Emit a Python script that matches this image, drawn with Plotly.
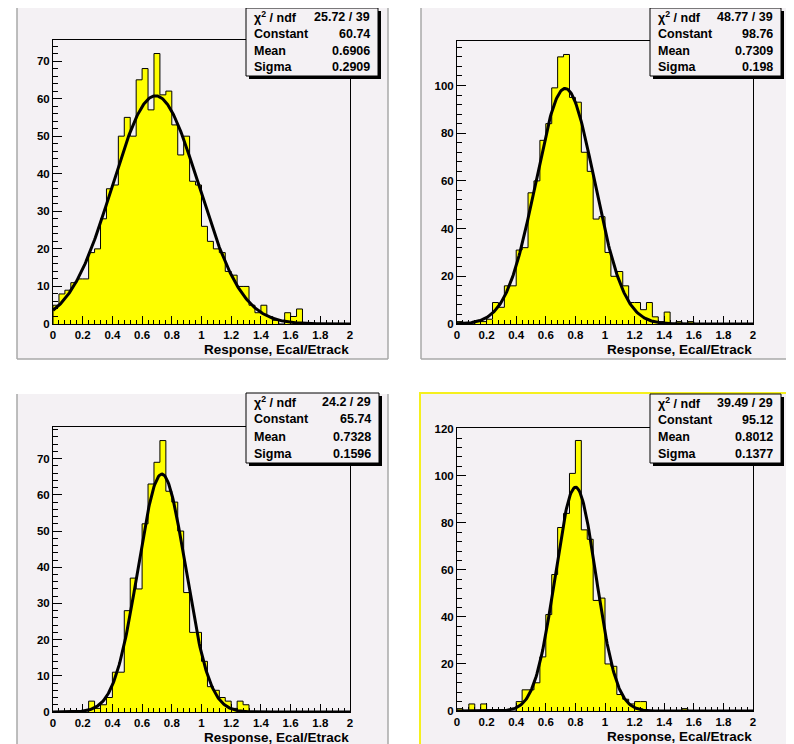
import numpy as np
import plotly.graph_objects as go

# page is 794x744; the HTML body adds an 8px margin, so the figure is drawn 8px smaller
OFF = 8
W, H = 794 - OFF, 744 - OFF

# ---------------- data ----------------
bin_edges = [round(0.04 * i, 2) for i in range(51)]

counts_1 = [5, 8, 9, 11, 12, 12, 19, 20, 28, 36, 37, 50, 55, 50, 65, 68, 57, 72, 61, 62,
            53, 45, 50, 38, 37, 26, 22, 20, 19, 14, 13, 10, 10, 5, 3, 5, 2, 1, 0, 3,
            2, 4, 0, 0, 0, 0, 0, 0, 0, 0]
counts_2 = [1, 0, 0, 1, 1, 2, 9, 7, 16, 16, 31, 32, 55, 60, 77, 84, 99, 112, 113, 95,
            93, 72, 64, 44, 45, 30, 20, 22, 16, 9, 9, 6, 9, 3, 1, 5, 0, 1, 0, 1,
            0, 0, 0, 0, 0, 0, 0, 0, 0, 0]
counts_3 = [0, 0, 0, 0, 0, 0, 3, 1, 2, 4, 11, 11, 28, 37, 34, 52, 63, 69, 75, 61,
            58, 50, 33, 22, 22, 14, 7, 6, 4, 3, 1, 3, 2, 0, 0, 0, 0, 0, 0, 0,
            0, 0, 0, 0, 0, 0, 0, 0, 0, 0]
counts_4 = [1, 0, 3, 0, 3, 0, 0, 0, 0, 0, 4, 9, 9, 12, 23, 41, 58, 78, 84, 101,
            115, 77, 73, 47, 48, 20, 19, 7, 5, 3, 4, 4, 0, 0, 0, 0, 0, 0, 1, 0,
            0, 0, 0, 0, 0, 0, 0, 0, 0, 0]
all_counts = [counts_1, counts_2, counts_3, counts_4]

chi2_ndf = ["25.72 / 39", "48.77 / 39", "24.2 / 29", "39.49 / 29"]
fit_constant = [60.74, 98.76, 65.74, 95.12]
fit_mean = [0.6906, 0.7309, 0.7328, 0.8012]
fit_sigma = [0.2909, 0.198, 0.1596, 0.1377]

y_top = [75.6, 118.65, 78.75, 120.3]
y_major = [10, 20, 10, 20]
y_minor = [2, 4, 2, 4]
x_title = "Response, Ecal/Etrack"

# ---------------- style / layout ----------------
FONT = "Liberation Sans, Arial, Helvetica, sans-serif"
CANVAS = "#f4f1f4"
YELLOW = "#ffff00"

# positions in screen pixels of the 794x744 page
frames = [(53, 350, 40, 324), (457, 753, 41, 324), (53, 350, 427, 712), (457, 753, 428, 711)]
canvases = [(17, 388, 8, 359), (421, 790, 8, 359), (17, 388, 394, 760), (420, 792, 393, 760)]
boxes = [(246, 378, 8, 76), (650, 781, 8, 76), (246, 379, 393, 463), (650, 781, 394, 463)]


def X(px):
    return (px - OFF) / W


def Y(py):
    return 1 - (py - OFF) / H


fig = go.Figure()
shapes = []
annotations = []

for i in range(4):
    n = "" if i == 0 else str(i + 1)
    fx0, fx1, fy0, fy1 = frames[i]
    counts = all_counts[i]

    # histogram: filled step outline
    xs = [bin_edges[0]] + bin_edges[:-1] + [bin_edges[-1]]
    ys = [0] + list(counts) + [0]
    fig.add_trace(go.Scatter(
        x=xs, y=ys, mode="lines", line=dict(color="black", width=1, shape="hv"),
        fill="tozeroy", fillcolor=YELLOW, xaxis="x" + n, yaxis="y" + n,
        showlegend=False, hoverinfo="skip"))

    # gaussian fit function from the displayed parameters
    xf = np.linspace(0.0, 2.0, 401)
    yf = fit_constant[i] * np.exp(-0.5 * ((xf - fit_mean[i]) / fit_sigma[i]) ** 2)
    fig.add_trace(go.Scatter(
        x=xf, y=yf, mode="lines", line=dict(color="black", width=3),
        xaxis="x" + n, yaxis="y" + n, showlegend=False, hoverinfo="skip"))

    tickfont = dict(family=FONT, size=11.5, color="black", weight="bold")
    fig.layout["xaxis" + n] = dict(
        domain=[X(fx0), X(fx1)], anchor="y" + n, range=[0, 2], automargin=False,
        showgrid=False, zeroline=False, showline=True, linecolor="black", linewidth=1,
        mirror=True, ticks="inside", ticklen=8, tickwidth=1, tickcolor="black",
        tick0=0, dtick=0.2, tickfont=tickfont,
        minor=dict(ticks="inside", ticklen=4, tickwidth=1, tickcolor="black", tick0=0, dtick=0.04,
                   showgrid=False),
        fixedrange=True)
    fig.layout["yaxis" + n] = dict(
        domain=[Y(fy1), Y(fy0)], anchor="x" + n, range=[0, y_top[i]], automargin=False,
        showgrid=False, zeroline=False, showline=True, linecolor="black", linewidth=1,
        mirror=True, ticks="inside", ticklen=9, tickwidth=1, tickcolor="black",
        tick0=0, dtick=y_major[i], tickfont=tickfont,
        minor=dict(ticks="inside", ticklen=4.5, tickwidth=1, tickcolor="black", tick0=0,
                   dtick=y_minor[i], showgrid=False),
        fixedrange=True)

    # canvas pad background + border
    cx0, cx1, cy0, cy1 = canvases[i]
    shapes.append(dict(type="rect", xref="paper", yref="paper", layer="below",
                       x0=X(cx0), x1=X(cx1), y0=Y(cy1), y1=Y(cy0),
                       fillcolor=CANVAS, line=dict(width=0)))
    if i == 3:
        shapes.append(dict(type="rect", xref="paper", yref="paper", layer="above",
                           x0=X(cx0), x1=X(cx1), y0=Y(cy1), y1=Y(cy0),
                           fillcolor="rgba(0,0,0,0)", line=dict(color="#f5f01e", width=2)))
    else:
        for (a0, b0, a1, b1) in [(cx0, cy0, cx0, cy1), (cx1, cy0, cx1, cy1), (cx0, cy1, cx1, cy1)]:
            shapes.append(dict(type="line", xref="paper", yref="paper", layer="below",
                               x0=X(a0), x1=X(a1), y0=Y(b0), y1=Y(b1),
                               line=dict(color="#a8a8a8", width=1.5)))

    # stats box with shadow
    bx0, bx1, by0, by1 = boxes[i]
    shapes.append(dict(type="rect", xref="paper", yref="paper", layer="above",
                       x0=X(bx0 + 3), x1=X(bx1 + 3), y0=Y(by1 + 3), y1=Y(by0 + 3),
                       fillcolor="black", line=dict(width=0)))
    shapes.append(dict(type="rect", xref="paper", yref="paper", layer="above",
                       x0=X(bx0), x1=X(bx1), y0=Y(by1), y1=Y(by0),
                       fillcolor=CANVAS, line=dict(color="black", width=1)))
    labels = ["χ<sup>2</sup> / ndf", "Constant", "Mean", "Sigma"]
    values = [chi2_ndf[i], str(fit_constant[i]), str(fit_mean[i]), str(fit_sigma[i])]
    rh = (by1 - by0) / 4.0
    for k in range(4):
        yc = by0 + (k + 0.5) * rh
        annotations.append(dict(xref="paper", yref="paper", x=X(bx0 + 6), y=Y(yc),
                                xanchor="left", yanchor="middle", showarrow=False,
                                text=labels[k],
                                font=dict(family=FONT, size=12.5, color="black", weight="bold")))
        annotations.append(dict(xref="paper", yref="paper", x=X(bx1 - 6), y=Y(yc),
                                xanchor="right", yanchor="middle", showarrow=False,
                                text=values[k],
                                font=dict(family=FONT, size=12.5, color="black", weight="bold")))

    # axis title
    annotations.append(dict(xref="paper", yref="paper", x=X(fx1 + 1), y=Y(fy1 + 25),
                            xanchor="right", yanchor="middle", showarrow=False,
                            text=x_title,
                            font=dict(family=FONT, size=13.5, color="black", weight="bold")))

fig.update_layout(
    template="none",
    width=W, height=H, margin=dict(l=0, r=0, t=0, b=0, pad=0),
    paper_bgcolor="white", plot_bgcolor=CANVAS,
    shapes=shapes, annotations=annotations, showlegend=False,
)

fig.write_html("out.html")
